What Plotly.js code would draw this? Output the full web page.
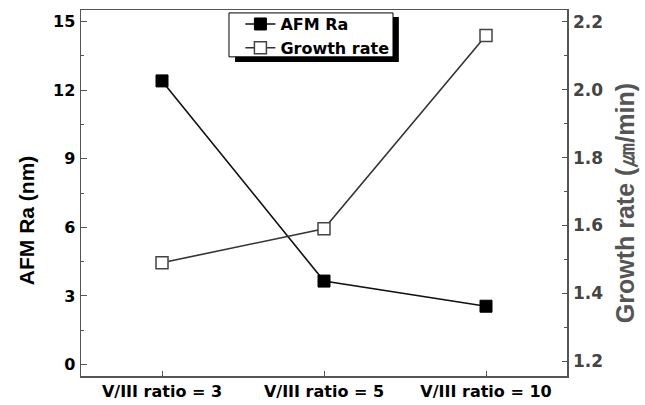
<!DOCTYPE html>
<html>
<head>
<meta charset="utf-8">
<script src="https://cdn.plot.ly/plotly-3.0.1.min.js"></script>
<style>html,body{margin:0;padding:0;background:#fff;}#chart{width:645px;height:405px;}</style>
</head>
<body>
<div id="chart"></div>
<script>
const categories = ["V/III ratio = 3", "V/III ratio = 5", "V/III ratio = 10"];
const afmRa = [12.4, 3.65, 2.55];
const growthRate = [1.49, 1.59, 2.16];
const leftTicks = [0, 3, 6, 9, 12, 15];
const rightTicks = [1.2, 1.4, 1.6, 1.8, 2.0, 2.2];
const rightTickText = ["1.2", "1.4", "1.6", "1.8", "2.0", "2.2"];
const leftTitle = "AFM Ra (nm)";
const rightTitle = "Growth rate (㎛/min)";

const HFONT = "DejaVu Sans, Liberation Sans, Arial, sans-serif";
const VFONT = "Liberation Sans, Arial, sans-serif";
const AX = "#555555";

const traces = [
  {
    x: categories, y: afmRa, name: "AFM Ra", type: "scatter", mode: "lines+markers",
    line: {color: "#111111", width: 1.6},
    marker: {symbol: "square", size: 12, color: "#000000", line: {color: "#000000", width: 1}},
    yaxis: "y"
  },
  {
    x: categories, y: growthRate, name: "Growth rate", type: "scatter", mode: "lines+markers",
    line: {color: "#333333", width: 1.6},
    marker: {symbol: "square", size: 12, color: "#ffffff", line: {color: "#444444", width: 1.5}},
    yaxis: "y2"
  }
];

const layout = {
  width: 645, height: 405,
  margin: {l: 81, r: 78, t: 10, b: 29, pad: 0, autoexpand: false},
  paper_bgcolor: "#ffffff", plot_bgcolor: "#ffffff",
  font: {family: HFONT, color: "#000000"},
  showlegend: true,
  legend: {
    x: 0.328, y: 1.008, xanchor: "left", yanchor: "top",
    bgcolor: "rgba(0,0,0,0)", borderwidth: 0,
    font: {family: HFONT, size: 16, color: "#000000", weight: "bold"},
    tracegroupgap: 0, itemwidth: 30
  },
  xaxis: {
    type: "category", categoryorder: "array", categoryarray: categories,
    range: [-0.5, 2.5],
    showline: true, linecolor: AX, linewidth: 1.5, mirror: true,
    ticks: "inside", ticklen: 5, tickwidth: 1, tickcolor: AX,
    showgrid: false, zeroline: false,
    tickfont: {family: HFONT, size: 16, color: "#000000", weight: "bold"}
  },
  yaxis: {
    range: [-0.5, 15.5],
    tickmode: "array", tickvals: leftTicks, ticktext: leftTicks.map(String),
    showline: true, linecolor: AX, linewidth: 1.5,
    ticks: "inside", ticklen: 6, tickwidth: 1, tickcolor: AX,
    ticklabelstandoff: 1,
    minor: {ticks: "inside", dtick: 1.5, tick0: 0, ticklen: 3, tickcolor: AX, showgrid: false},
    showgrid: false, zeroline: false,
    tickfont: {family: HFONT, size: 16, color: "#000000", weight: "bold"}
  },
  yaxis2: {
    overlaying: "y", side: "right",
    range: [1.156, 2.235],
    tickmode: "array", tickvals: rightTicks, ticktext: rightTickText,
    showline: true, linecolor: AX, linewidth: 1.5,
    ticks: "inside", ticklen: 5, tickwidth: 1, tickcolor: AX,
    ticklabelstandoff: 1,
    minor: {ticks: "inside", dtick: 0.1, tick0: 1.2, ticklen: 3, tickcolor: AX, showgrid: false},
    showgrid: false, zeroline: false,
    tickfont: {family: HFONT, size: 17, color: "#444444", weight: "bold"}
  },
  annotations: [
    {text: leftTitle, xref: "paper", yref: "paper", x: -0.113, y: 0.426, xanchor: "center", yanchor: "middle",
     textangle: -90, showarrow: false, font: {family: VFONT, size: 21, color: "#000000", weight: 700}},
    {text: rightTitle, xref: "paper", yref: "paper", x: 1.12, y: 0.473, xanchor: "center", yanchor: "middle",
     textangle: -90, showarrow: false, font: {family: VFONT, size: 25, color: "#555555", weight: 700}}
  ],
  shapes: [
    {type: "rect", xref: "paper", yref: "paper", x0: 0.317, x1: 0.654, y0: 0.858, y1: 0.981,
     fillcolor: "#000000", line: {width: 0}, layer: "above"},
    {type: "rect", xref: "paper", yref: "paper", x0: 0.3045, x1: 0.642, y0: 0.872, y1: 0.992,
     fillcolor: "#ffffff", line: {color: "#000000", width: 1}, layer: "above"}
  ]
};

Plotly.newPlot("chart", traces, layout, {displayModeBar: false, staticPlot: true});
</script>
</body>
</html>
